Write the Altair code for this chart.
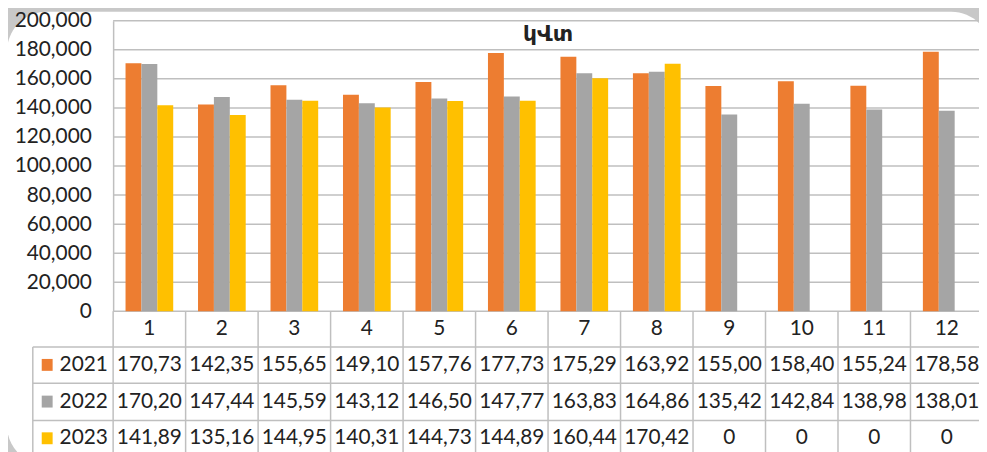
import altair as alt
import pandas as pd

# ---- data ----
months = list(range(1, 13))
years = ["2021", "2022", "2023"]
v2021 = [170.73, 142.35, 155.65, 149.10, 157.76, 177.73, 175.29, 163.92, 155.00, 158.40, 155.24, 178.58]
v2022 = [170.20, 147.44, 145.59, 143.12, 146.50, 147.77, 163.83, 164.86, 135.42, 142.84, 138.98, 138.01]
v2023 = [141.89, 135.16, 144.95, 140.31, 144.73, 144.89, 160.44, 170.42, 0, 0, 0, 0]
colors = ["#ED7D31", "#A5A5A5", "#FFC000"]
title_text = "կՎտ"
y_ticks = list(range(0, 200001, 20000))

def fmt(v):
    return "0" if v == 0 else f"{v:.2f}".replace(".", ",")

rows = []
for yr, vals in zip(years, [v2021, v2022, v2023]):
    for m, v in zip(months, vals):
        rows.append({"year": yr, "cat": m, "value": v * 1000, "label": fmt(v)})
df = pd.DataFrame(rows)
cats_df = pd.DataFrame({"cat": months})
legend_df = pd.DataFrame({"year": years})
ticks_df = pd.DataFrame({"value": y_ticks})

# ---- layout constants (plot coords; origin = plot top-left) ----
W, H = 873, 293
PL, PT, PB = 106, 11, 140
grid_c = "#bfbfbf"
txt_c = "#222222"
FONT = "Lato"
FS = 21

xscale = alt.Scale(range=[0, 877], paddingInner=0, paddingOuter=0)
yscale = alt.Scale(domain=[0, 200000], nice=False)
X = alt.X("cat:O", scale=xscale, axis=None)
yaxis = alt.Axis(values=y_ticks, format=",.0f", title=None, labelFont=FONT, labelFontSize=FS,
                 labelColor=txt_c, grid=False, zindex=1, labelOverlap=False,
                 domain=True, domainColor=grid_c, domainWidth=1.5,
                 ticks=False, tickSize=0, labelPadding=22)

panel = alt.Chart(cats_df).transform_filter("datum.cat == 1").mark_rect(color="white", cornerRadius=40).encode(
    x=alt.value(-107), x2=alt.value(885), y=alt.value(-9), y2=alt.value(448)
)

grid = alt.Chart(ticks_df).mark_rule(color=grid_c, strokeWidth=1.5).encode(
    y=alt.Y("value:Q", scale=yscale, axis=yaxis), x=alt.value(0), x2=alt.value(880)
)

bars = alt.Chart(df).mark_bar().encode(
    x=X,
    xOffset=alt.XOffset("year:N", scale=alt.Scale(domain=years, paddingOuter=0.78, paddingInner=0)),
    y=alt.Y("value:Q", scale=yscale, axis=yaxis),
    color=alt.Color("year:N", scale=alt.Scale(domain=years, range=colors), legend=None),
)

title = alt.Chart(cats_df).transform_filter("datum.cat == 1").mark_text(
    text=title_text, font="DejaVu Sans", fontWeight="bold", fontSize=22, color=txt_c, baseline="middle"
).encode(x=alt.value(438.5), y=alt.value(13))

# table vertical lines at column starts
vlines = alt.Chart(cats_df).mark_rule(color=grid_c, strokeWidth=1.5).encode(
    x=alt.X("cat:O", scale=xscale, axis=None, bandPosition=0),
    y=alt.value(H), y2=alt.value(H + 150),
)

layers = [panel, grid, bars, title, vlines]

# horizontal table lines
for yy in [329, 365.5, 403]:
    layers.append(alt.Chart(cats_df).transform_filter("datum.cat == 1").mark_rule(color=grid_c, strokeWidth=1.5)
                  .encode(x=alt.value(-81), x2=alt.value(880), y=alt.value(yy)))
layers.append(alt.Chart(cats_df).transform_filter("datum.cat == 1").mark_rule(color=grid_c, strokeWidth=1.5)
              .encode(x=alt.value(-81), y=alt.value(329), y2=alt.value(H + 150)))

# header numbers
layers.append(alt.Chart(cats_df).mark_text(font=FONT, fontSize=FS, color=txt_c, baseline="middle").encode(
    x=X, y=alt.value(311), text=alt.Text("cat:O")))

row_y = [347, 384, 421]
for yr, col, ry in zip(years, colors, row_y):
    layers.append(alt.Chart(df).transform_filter(f"datum.year == '{yr}'").mark_text(
        font=FONT, fontSize=FS, color=txt_c, baseline="middle").encode(
        x=X, y=alt.value(ry), text="label:N"))
    layers.append(alt.Chart(legend_df).transform_filter(f"datum.year == '{yr}'").mark_rect(color=col).encode(
        x=alt.value(-72), x2=alt.value(-61), y=alt.value(ry - 6), y2=alt.value(ry + 6)))
    layers.append(alt.Chart(legend_df).transform_filter(f"datum.year == '{yr}'").mark_text(
        font=FONT, fontSize=FS, color=txt_c, baseline="middle", align="left").encode(
        x=alt.value(-54), y=alt.value(ry), text="year:N"))

chart = alt.layer(*layers).properties(
    width=W, height=H,
    autosize=alt.AutoSizeParams(type="none"),
    padding={"left": PL, "top": PT, "right": 0, "bottom": PB},
    background="#c8c8c8",
).configure_view(stroke=None)

chart.save("out.html", embed_options={"renderer": "svg", "actions": False})
